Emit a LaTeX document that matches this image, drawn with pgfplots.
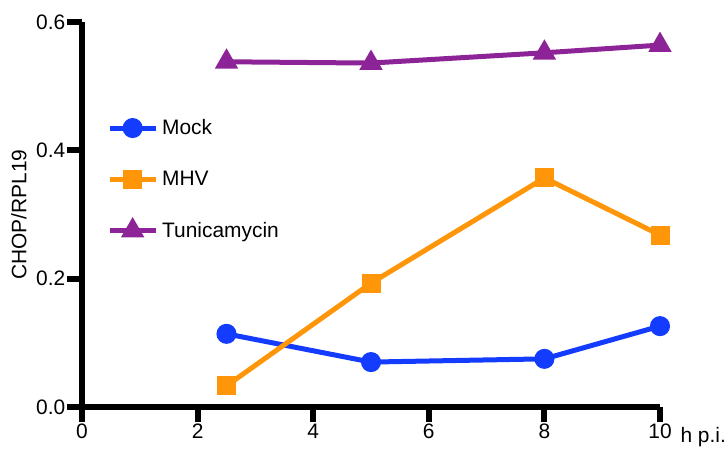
\documentclass[border=0pt]{standalone}
\usepackage{pgfplots}
\pgfplotsset{compat=1.18}
\usetikzlibrary{calc}
\usepackage{fontspec}
\setmainfont{Liberation Sans}
\definecolor{cmock}{RGB}{20,60,255}
\definecolor{cmhv}{RGB}{255,150,10}
\definecolor{ctun}{RGB}{140,35,150}
\begin{document}
\begin{tikzpicture}[font=\fontsize{21}{25}\selectfont]
\begin{axis}[
  name=ax,
  scale only axis,
  width=578bp, height=385bp,
  xmin=0, xmax=10, ymin=0, ymax=0.6,
  axis x line*=bottom, axis y line*=left,
  every outer x axis line/.append style={line width=6bp, black, -},
  every outer y axis line/.append style={line width=6bp, black, -},
  axis line style={line width=6bp, black, -},
  xtick={0,2,4,6,8,10}, ytick={0,0.2,0.4,0.6},
  tick align=outside,
  major tick length=15bp,
  yticklabels={0.0,0.2,0.4,0.6},
  xticklabels={0,2,4,6,8,10},
  yticklabel style={font=\fontsize{21}{25}\selectfont, inner xsep=1.5bp},
  xticklabel style={font=\fontsize{21}{25}\selectfont, inner ysep=1.5bp},
  ylabel={CHOP/RPL19},
  ylabel style={font=\fontsize{21}{25}\selectfont, at={(rel axis cs:0,0.5)}, anchor=center, yshift=63bp},
  xlabel={h p.i.},
  xlabel style={at={(rel axis cs:1,0)}, anchor=base west, xshift=17bp, yshift=-36bp, font=\fontsize{21}{25}\selectfont},
  legend style={draw=none, fill=none, at={(rel axis cs:0.038,0.757)}, anchor=north west, row sep=31bp, font=\fontsize{21}{25}\selectfont},
  legend cell align=left,
  legend image code/.code={\draw[#1, mark repeat=2, mark phase=2] plot coordinates {(0bp,0bp) (23bp,0bp) (46bp,0bp)};\path (48bp,0bp);},
  clip=false,
]
\addplot[cmock, line width=5bp, mark=*, mark size=7.5bp, mark options={solid}] coordinates {(2.5,0.114) (5,0.070) (8,0.075) (10,0.126)};
\addlegendentry{Mock}
\addplot[cmhv, line width=5bp, mark=square*, mark size=7bp] coordinates {(2.5,0.033) (5,0.193) (8,0.357) (10,0.268)};
\addlegendentry{MHV}
\addplot[ctun, line width=5bp, mark=triangle*, mark size=8.5bp] coordinates {(2.5,0.538) (5,0.536) (8,0.552) (10,0.564)};
\addlegendentry{Tunicamycin}
\end{axis}
% tick marks (axis decoration), drawn as filled bars along the axis box
\foreach \i in {0,0.2,0.4,0.6,0.8,1}{
  \fill[black] ([shift={(-3bp,0bp)}]$(ax.south west)!\i!(ax.south east)$) rectangle ++(6bp,-15bp);
}
\foreach \i in {0,0.333333,0.666667,1}{
  \fill[black] ([shift={(0bp,-3bp)}]$(ax.south west)!\i!(ax.north west)$) rectangle ++(-15bp,6bp);
}
\pgfresetboundingbox
\path ([shift={(-82bp,-42bp)}]ax.south west) rectangle ([shift={(68bp,22bp)}]ax.north east);
\end{tikzpicture}
\end{document}
